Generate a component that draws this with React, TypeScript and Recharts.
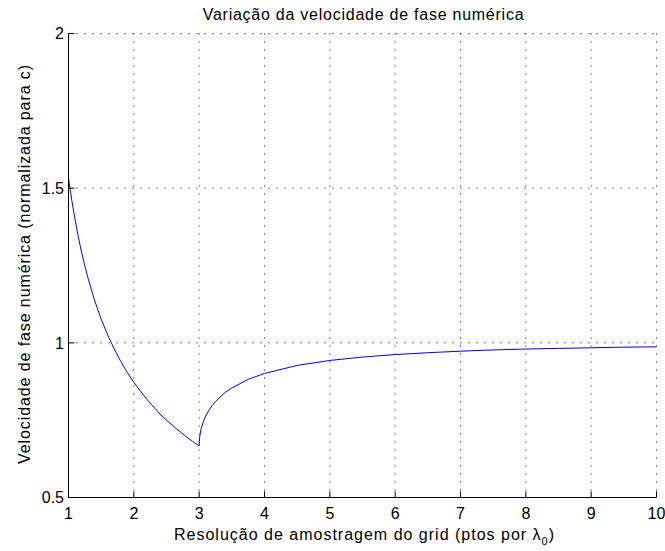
import React from 'react';
import { LineChart, Line, XAxis, YAxis, CartesianGrid } from 'recharts';

// grid resolution N (points per wavelength) and normalized numerical phase velocity
const resolution = [
  1.0, 1.05, 1.1, 1.15, 1.2, 1.25, 1.3, 1.4, 1.5, 1.6, 1.7, 1.8, 1.9, 2.0,
  2.2, 2.4, 2.6, 2.8, 2.9, 2.95, 3.0,
  3.002, 3.01, 3.03, 3.06, 3.1, 3.15, 3.2, 3.3, 3.4, 3.5, 3.75, 4.0, 4.5, 5.0,
  5.5, 6.0, 6.5, 7.0, 7.5, 8.0, 8.5, 9.0, 9.5, 10.0,
];
const phaseVelocity = [
  1.533, 1.461, 1.399, 1.343, 1.293, 1.249, 1.208, 1.137, 1.077, 1.025, 0.98, 0.94, 0.904, 0.872,
  0.817, 0.77, 0.731, 0.697, 0.681, 0.674, 0.667,
  0.681, 0.699, 0.722, 0.743, 0.763, 0.782, 0.798, 0.821, 0.84, 0.854, 0.882, 0.901, 0.927, 0.943,
  0.954, 0.962, 0.968, 0.973, 0.977, 0.98, 0.982, 0.984, 0.986, 0.987,
];

const xTicks = [1, 2, 3, 4, 5, 6, 7, 8, 9, 10];
const yTicks = [0.5, 1, 1.5, 2];

const title = 'Variação da velocidade de fase numérica';
const xLabel = 'Resolução de amostragem do grid (ptos por ';
const yLabel = 'Velocidade de fase numérica (normalizada para c)';

const data = resolution.map((n, i) => ({ n, v: phaseVelocity[i] }));

const FONT = '"Liberation Sans", Arial, Helvetica, sans-serif';
const TICK_LEN = 6;

const BottomTick = ({ x, y, payload }: any) => (
  <g>
    <line x1={x} x2={x} y1={y} y2={y - TICK_LEN} stroke="#000" />
    <text x={x} y={y + 21.8} textAnchor="middle" fontSize={16} fontFamily={FONT} fill="#000">
      {payload.value}
    </text>
  </g>
);

const LeftTick = ({ x, y, payload }: any) => (
  <g>
    <line x1={x} x2={x + TICK_LEN} y1={y} y2={y} stroke="#000" />
    <text x={x - 4.5} y={y + 5.8} textAnchor="end" fontSize={16} fontFamily={FONT} fill="#000">
      {payload.value}
    </text>
  </g>
);

const TopTick = ({ x, y }: any) => <line x1={x} x2={x} y1={y} y2={y + TICK_LEN} stroke="#000" />;
const RightTick = ({ x, y }: any) => <line x1={x - TICK_LEN} x2={x} y1={y} y2={y} stroke="#000" />;

const W = 665;
const H = 551;

export default function App() {
  return (
    <div style={{ position: 'absolute', left: 0, top: 0, width: W, height: H, background: '#fff' }}>
      <LineChart width={W} height={H} data={data} margin={{ top: 33.5, right: 8.5, bottom: 23.5, left: 8.5 }}>
        <CartesianGrid strokeDasharray="1 7" stroke="#000" />
        <XAxis
          dataKey="n"
          type="number"
          domain={[1, 10]}
          ticks={xTicks}
          height={30}
          stroke="#000"
          tickSize={0}
          tickMargin={0}
          tick={<BottomTick />}
        />
        <XAxis
          xAxisId="top"
          orientation="top"
          type="number"
          domain={[1, 10]}
          ticks={xTicks}
          height={0}
          stroke="#000"
          tickSize={0}
          tickMargin={0}
          tick={<TopTick />}
        />
        <YAxis
          type="number"
          domain={[0.5, 2]}
          ticks={yTicks}
          width={60}
          stroke="#000"
          tickSize={0}
          tickMargin={0}
          tick={<LeftTick />}
        />
        <YAxis
          yAxisId="right"
          orientation="right"
          type="number"
          domain={[0.5, 2]}
          ticks={yTicks}
          width={0}
          stroke="#000"
          tickSize={0}
          tickMargin={0}
          tick={<RightTick />}
        />
        <Line type="linear" dataKey="v" stroke="#0000ff" strokeWidth={1} dot={false} isAnimationActive={false} />
      </LineChart>
      <svg width={W} height={H} style={{ position: 'absolute', left: 0, top: 0, pointerEvents: 'none' }}>
        <text x={363.5} y={20} textAnchor="middle" fontSize={16} letterSpacing={0.75} fontFamily={FONT} fill="#000">
          {title}
        </text>
        <text x={364.5} y={540} textAnchor="middle" fontSize={16} letterSpacing={1} fontFamily={FONT} fill="#000">
          {xLabel}
          <tspan>λ</tspan>
          <tspan dy={5} fontSize={11}>0</tspan>
          <tspan dy={-5}>)</tspan>
        </text>
        <text
          transform="translate(29.5, 264) rotate(-90)"
          textAnchor="middle"
          fontSize={16}
          letterSpacing={0.9}
          fontFamily={FONT}
          fill="#000"
        >
          {yLabel}
        </text>
      </svg>
    </div>
  );
}
